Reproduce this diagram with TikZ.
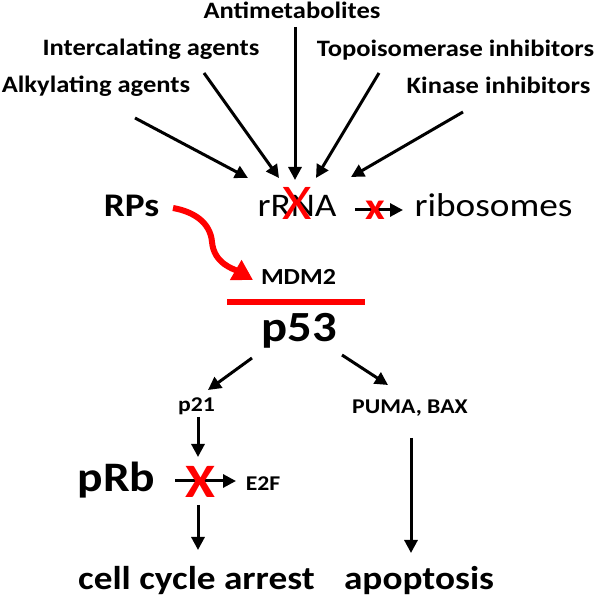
\documentclass[tikz,border=0pt]{standalone}
\usepackage{fontspec}
\setmainfont{Carlito}[FakeStretch=1.13]
\usetikzlibrary{arrows.meta}
\begin{document}
\begin{tikzpicture}[x=1pt,y=1pt,
  txt/.style={anchor=base,inner sep=0pt,font=\bfseries\fontsize{#1}{#1}\selectfont},
  reg/.style={anchor=base,inner sep=0pt,font=\fontsize{#1}{#1}\selectfont},
  redx/.style={inner sep=0pt,text=red,font=\bfseries\fontsize{#1}{#1}\selectfont},
  redxr/.style={inner sep=0pt,text=red,font=\fontsize{#1}{#1}\selectfont},
  blk/.style={line width=3pt,-{Triangle[length=13pt,width=13pt]}},
  inhib/.style={line width=6pt,red}
]
\useasboundingbox (0,0) rectangle (596,600);
% top labels
\node[txt=23.5] (anti) at (292,581) {Antimetabolites};
\node[txt=23.5] (inter) at (151,544) {Intercalating agents};
\node[txt=23.5] (topo) at (455.5,543) {Topoisomerase inhibitors};
\node[txt=23.5] (alky) at (96,507) {Alkylating agents};
\node[txt=23.5] (kin) at (498.5,506) {Kinase inhibitors};
% middle row
\node[reg=33] (rrna) at (297,383) {rRNA};
\node[reg=33] (ribo) at (493.5,383) {ribosomes};
\node[txt=33] (rps) at (131.5,383) {RPs};
\node[txt=23] (mdm2) at (298.5,315) {MDM2};
\node[txt=43] (p53) at (299.5,258) {p53};
\node[txt=21] (p21) at (196.5,188) {p21};
\node[txt=21] (puma) at (410,186) {PUMA, BAX};
\node[txt=42] (prb) at (116.5,108) {pRb};
\node[txt=21] (e2f) at (263,109) {E2F};
\node[txt=33] (cca) at (196.5,10) {cell cycle arrest};
\node[txt=33] (apo) at (419,10) {apoptosis};
% arrow coordinates
\coordinate (a1s) at (135,482); \coordinate (a1e) at (248,422);
\coordinate (a2s) at (204,527); \coordinate (a2e) at (279,422);
\coordinate (a3s) at (295,573); \coordinate (a3e) at (295,420);
\coordinate (a4s) at (379,527); \coordinate (a4e) at (316,422);
\coordinate (a5s) at (463,488); \coordinate (a5e) at (351,423);
\coordinate (rs) at (355,390); \coordinate (re) at (403,390);
\coordinate (pls) at (252,242); \coordinate (ple) at (208,210);
\coordinate (prs) at (342,245); \coordinate (pre) at (388,215);
\coordinate (d1s) at (198,183); \coordinate (d1e) at (198,143);
\coordinate (es) at (175,119); \coordinate (ee) at (236,119);
\coordinate (d2s) at (198,95); \coordinate (d2e) at (198,50);
\coordinate (d3s) at (411,162); \coordinate (d3e) at (411,47);
\coordinate (bl) at (227,298); \coordinate (br) at (365,298);
\coordinate (cs) at (173,392); \coordinate (cm) at (212,358); \coordinate (ce) at (253,320);
% black arrows
\draw[blk] (a1s) -- (a1e);
\draw[blk] (a2s) -- (a2e);
\draw[blk] (a3s) -- (a3e);
\draw[blk] (a4s) -- (a4e);
\draw[blk] (a5s) -- (a5e);
\draw[blk] (rs) -- (re);
\draw[blk] (pls) -- (ple);
\draw[blk] (prs) -- (pre);
\draw[blk] (d1s) -- (d1e);
\draw[blk] (es) -- (ee);
\draw[blk] (d2s) -- (d2e);
\draw[blk] (d3s) -- (d3e);
% red inhibition bar
\draw[inhib,line width=5.5pt] (bl) -- (br);
% red curved arrow
\draw[red,line width=6pt,-{Triangle[length=20pt,width=22pt]}] (cs) to[out=-10,in=95] (cm) to[out=-85,in=150] (ce);
% red crosses
\node[redxr=50] (x1) at (297,397) {X};
\node[redx=38] (x2) at (375,390) {x};
\node[redx=48] (x3) at (200,118) {X};
\end{tikzpicture}
\end{document}
